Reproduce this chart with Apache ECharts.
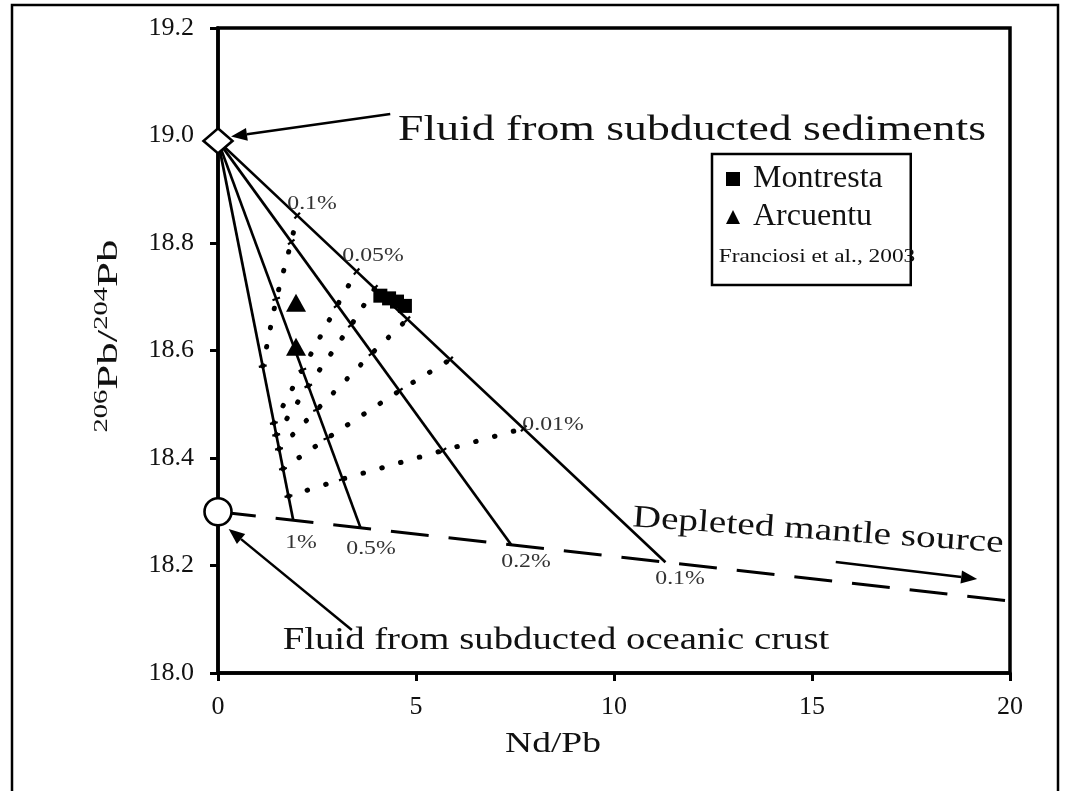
<!DOCTYPE html>
<html>
<head>
<meta charset="utf-8">
<script src="https://cdn.jsdelivr.net/npm/echarts@6/dist/echarts.min.js"></script>
<style>
  html, body { margin: 0; padding: 0; background: #fff; }
  #chart { width: 1069px; height: 791px; }
</style>
</head>
<body>
<div id="chart"></div>
<script>
// End members (Nd/Pb, 206Pb/204Pb)
const fluidSediments = [0, 18.99];
const fluidOceanicCrust = [0, 18.30];

// Depleted mantle source trend
const mantleTrend = [[0, 18.30], [20, 18.134]];

// Mixing lines: fluid from sediments -> mantle source at different melting degrees
const meltLabels = ['1%', '0.5%', '0.2%', '0.1%'];
const mantleEnds = [[1.9, 18.284], [3.6, 18.270], [7.4, 18.239], [11.3, 18.206]];

// Iso-fraction curves (fluid added), one point on each mixing line
const fluidFractions = ['0.01%', '0.02%', '0.03%', '0.04%', '0.05%', '0.1%'];
const iso001 = [[1.78, 18.329], [3.15, 18.361], [5.68, 18.414], [7.72, 18.455]];
const iso002 = [[1.64, 18.380], [2.76, 18.437], [4.58, 18.525], [5.86, 18.583]];
const iso003 = [[1.54, 18.417], [2.50, 18.490], [3.89, 18.595], [4.78, 18.658]];
const iso004 = [[1.47, 18.443], [2.28, 18.534], [3.37, 18.648], [3.96, 18.716]];
const iso005 = [[1.41, 18.465], [2.13, 18.564], [3.01, 18.684], [3.50, 18.747]];
const iso010 = [[1.13, 18.571], [1.47, 18.696], [1.85, 18.802], [2.00, 18.851]];
const isoLines = [iso001, iso002, iso003, iso004, iso005, iso010];

// Samples
const montresta = [[4.10, 18.702], [4.32, 18.697], [4.52, 18.691], [4.72, 18.683]];
const arcuentu = [[1.97, 18.689], [1.97, 18.607]];

// Axis ticks
const xTickValues = [0, 5, 10, 15, 20];
const yTickLabels = ['18.0', '18.2', '18.4', '18.6', '18.8', '19.0', '19.2'];

// Annotation arrows [tail, tip] in data units
const sedimentArrow = [[4.35, 19.04], [0.33, 18.998]];
const crustArrow = [[3.38, 18.08], [0.27, 18.268]];
const mantleArrow = [[15.6, 18.2065], [19.17, 18.175]];

const SERIF = "'Liberation Serif', 'Times New Roman', serif";
const INK = '#111';

const chart = echarts.init(document.getElementById('chart'), null, { renderer: 'canvas' });

const series = [];

series.push({
  name: 'Depleted mantle', type: 'line', data: mantleTrend, symbol: 'none', silent: true,
  lineStyle: { color: '#000', width: 3, type: [38, 20] }, z: 2
});

mantleEnds.forEach((end, i) => {
  series.push({
    name: 'Mixing ' + meltLabels[i], type: 'line', data: [fluidSediments, end], symbol: 'none', silent: true,
    lineStyle: { color: '#000', width: 2.7 }, z: 3
  });
});

isoLines.forEach((pts, i) => {
  series.push({
    name: 'Fluid ' + fluidFractions[i], type: 'line', data: pts, symbol: 'none', silent: true,
    lineStyle: { color: '#000', width: 5, type: [0.5, 19], cap: 'round' }, z: 3
  });
});

// small cross ticks on the mixing lines where the iso-fraction curves meet them
series.push({
  name: 'ticks', type: 'custom', silent: true, z: 4,
  data: isoLines.flat(),
  renderItem: function (params, api) {
    const p = api.coord([api.value(0), api.value(1)]);
    const o = api.coord(fluidSediments);
    let dx = p[0] - o[0], dy = p[1] - o[1];
    const len = Math.hypot(dx, dy);
    dx /= len; dy /= len;
    const h = 4;
    return {
      type: 'line',
      shape: { x1: p[0] - dy * h, y1: p[1] + dx * h, x2: p[0] + dy * h, y2: p[1] - dx * h },
      style: { stroke: '#000', lineWidth: 2.2 }
    };
  }
});

series.push({
  name: 'Montresta', type: 'scatter', data: montresta, symbol: 'rect', symbolSize: 14,
  itemStyle: { color: '#000', opacity: 1 }, z: 6
});
series.push({
  name: 'Arcuentu', type: 'scatter', data: arcuentu, symbol: 'triangle', symbolSize: [20, 18],
  itemStyle: { color: '#000', opacity: 1 }, z: 6
});
series.push({
  name: 'Sediment fluid', type: 'scatter', data: [fluidSediments], symbol: 'diamond', symbolSize: [29, 25],
  itemStyle: { color: '#fff', borderColor: '#000', borderWidth: 2.6, opacity: 1 }, z: 7
});
series.push({
  name: 'Oceanic crust fluid', type: 'scatter', data: [fluidOceanicCrust], symbol: 'circle', symbolSize: 27,
  itemStyle: { color: '#fff', borderColor: '#000', borderWidth: 2.6, opacity: 1 }, z: 7
});

chart.setOption({
  animation: false,
  backgroundColor: '#fff',
  grid: { left: 218, right: 59, top: 28, bottom: 118, show: true, borderColor: '#000', borderWidth: 3.5, containLabel: false },
  xAxis: {
    type: 'value', min: xTickValues[0], max: xTickValues[xTickValues.length - 1], interval: 5,
    splitLine: { show: false },
    axisLine: { lineStyle: { color: '#000', width: 3.5 } },
    axisTick: { inside: false, length: 8, lineStyle: { color: '#000', width: 3 } },
    axisLabel: { margin: 21, color: INK, fontFamily: SERIF, fontSize: 26 }
  },
  yAxis: {
    type: 'value', min: 18.0, max: 19.2, interval: 0.2,
    splitLine: { show: false },
    axisLine: { lineStyle: { color: '#000', width: 3.5 } },
    axisTick: { inside: false, length: 8, lineStyle: { color: '#000', width: 3 } },
    axisLabel: {
      margin: 24, color: INK, fontFamily: SERIF, fontSize: 26,
      formatter: function (v) { return yTickLabels[Math.round((v - 18.0) / 0.2)]; }
    }
  },
  legend: {
    data: [{ name: 'Montresta', icon: 'rect' }, { name: 'Arcuentu', icon: 'triangle' }],
    orient: 'vertical', left: 712, top: 154,
    itemWidth: 14, itemHeight: 14, itemGap: 6,
    padding: [9, 28, 52, 14],
    borderColor: '#000', borderWidth: 2.5,
    textStyle: { fontFamily: SERIF, fontSize: 32, color: INK, padding: [0, 0, 0, 8] },
    selectedMode: false
  },
  series: series
});

// annotation layer: titles, notes, arrows
function px(v) { return chart.convertToPixel({ gridIndex: 0 }, v); }
function arrow(def) {
  const a = px(def[0]), b = px(def[1]);
  let dx = b[0] - a[0], dy = b[1] - a[1];
  const len = Math.hypot(dx, dy);
  dx /= len; dy /= len;
  const hl = 16, hw = 6.5;
  const bx = b[0] - dx * hl, by = b[1] - dy * hl;
  return [
    { type: 'line', shape: { x1: a[0], y1: a[1], x2: bx, y2: by }, style: { stroke: '#000', lineWidth: 2.5 }, z: 20 },
    { type: 'polygon', shape: { points: [[b[0], b[1]], [bx - dy * hw, by + dx * hw], [bx + dy * hw, by - dx * hw]] }, style: { fill: '#000' }, z: 20 }
  ];
}
function label(text, x, y, size, extra, fill) {
  return Object.assign({
    type: 'text', x: x, y: y, scaleX: 1.25, z: 20,
    style: { text: text, fontFamily: SERIF, fontSize: size, fill: fill || INK, align: 'center', verticalAlign: 'middle' }
  }, extra || {});
}

const endLabelPos = [[301, 543], [371, 549], [526, 562], [680, 579]];
const fractionLabelPos = { '0.1%': [312, 204], '0.05%': [373, 256], '0.01%': [553, 425] };

const graphics = [
  // outer frame
  { type: 'polyline', shape: { points: [[12, 800], [12, 5], [1058, 5], [1058, 800]] }, style: { stroke: '#000', lineWidth: 2.5, fill: null }, z: 1 },
  label('Fluid from subducted sediments', 692, 131, 36, { scaleX: 1.27 }),
  label('Fluid from subducted oceanic crust', 556, 641, 31),
  label('Depleted mantle source', 818, 531, 31.5, { rotation: -0.07 }),
  label('Nd/Pb', 553, 744, 30),
  label('Franciosi et al., 2003', 817, 257, 18.7),
  {
    type: 'text', x: 109, y: 336, rotation: Math.PI / 2, scaleX: 1.5, z: 20,
    style: {
      text: '{s|206}{m|Pb/}{s|204}{m|Pb}', align: 'center', verticalAlign: 'middle',
      rich: {
        m: { fontFamily: SERIF, fontSize: 30, fill: INK, lineHeight: 32 },
        s: { fontFamily: SERIF, fontSize: 19, fill: INK, lineHeight: 20, verticalAlign: 'top' }
      }
    }
  }
];
meltLabels.forEach((t, i) => graphics.push(label(t, endLabelPos[i][0], endLabelPos[i][1], 19, null, '#333')));
fluidFractions.forEach(t => {
  const p = fractionLabelPos[t];
  if (p) graphics.push(label(t, p[0], p[1], 19, null, '#333'));
});
[sedimentArrow, crustArrow, mantleArrow].forEach(a => arrow(a).forEach(g => graphics.push(g)));

chart.setOption({ graphic: graphics });
</script>
</body>
</html>
